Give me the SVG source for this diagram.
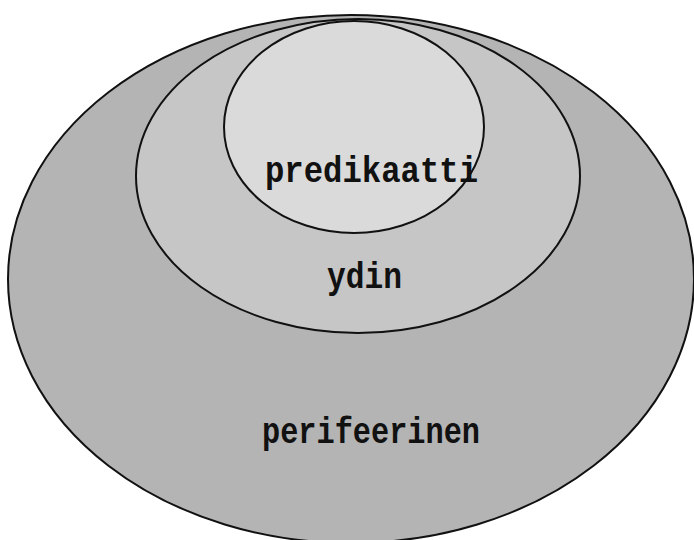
<svg xmlns="http://www.w3.org/2000/svg" width="694" height="540" viewBox="0 0 694 540">
<style>
.ring{stroke:#111;stroke-width:2}
.lbl{font-family:"Liberation Mono","DejaVu Sans Mono",monospace;font-size:37px;font-weight:bold;fill:#111}
</style>
<rect width="694" height="540" fill="#fff"/>
<g id="perifeerinen">
<ellipse class="ring" cx="351" cy="279" rx="343" ry="264" fill="#b4b4b4"/>
<text class="lbl" x="262" y="443" textLength="218" lengthAdjust="spacingAndGlyphs">perifeerinen</text>
</g>
<g id="ydin">
<ellipse class="ring" cx="358" cy="176" rx="222" ry="157" fill="#c6c6c6"/>
<text class="lbl" x="327" y="288" textLength="75" lengthAdjust="spacingAndGlyphs">ydin</text>
</g>
<g id="predikaatti">
<ellipse class="ring" cx="354" cy="127" rx="130" ry="106" fill="#dadada"/>
<text class="lbl" x="265" y="182" textLength="213" lengthAdjust="spacingAndGlyphs">predikaatti</text>
</g>
<g id="connectors"/>
</svg>
